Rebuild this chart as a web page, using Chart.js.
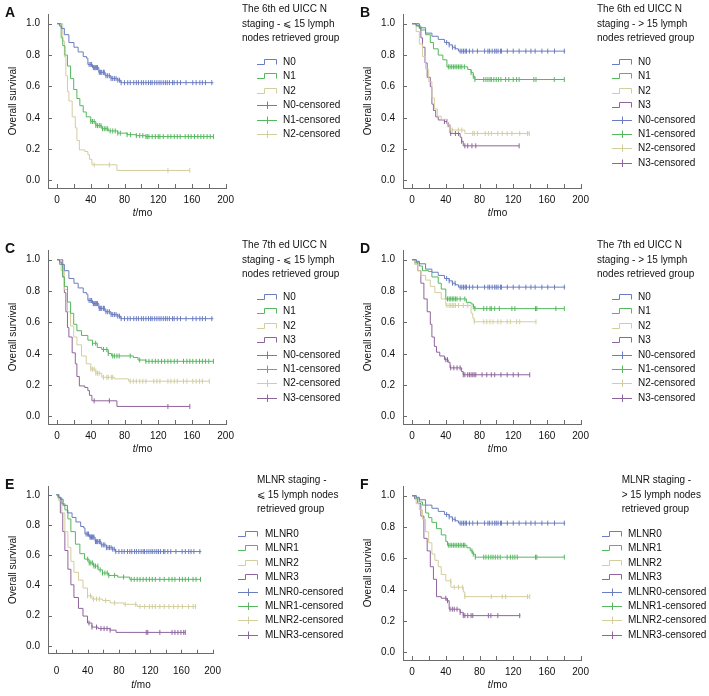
<!DOCTYPE html>
<html lang="en">
<head>
<meta charset="UTF-8">
<title>Overall survival by N staging</title>
<script src="https://cdn.jsdelivr.net/npm/chart.js"></script>
<style>
  body { margin: 0; background: #fff; font-family: "Liberation Sans", Arial, sans-serif; color: #111; }
  #page { position: relative; width: 709px; height: 696px; overflow: hidden; background: #fff; }
  .panel { position: absolute; width: 354px; height: 230px; }
  .panel canvas { position: absolute; left: 0; top: 0; }
  .tag { position: absolute; left: 5px; top: 4px; font: bold 14px "Liberation Sans", Arial, sans-serif; color: #111; }
  .xtitle { position: absolute; width: 60px; text-align: center; font-size: 10px; line-height: 12px; }
  .lgTitle, .lgText { position: absolute; font-size: 10px; line-height: 14px; white-space: nowrap; }
  .lgIcon { position: absolute; width: 20px; height: 8px; }
  .lgIcon svg { display: block; }
</style>
</head>
<body>
<div id="page"></div>
<script>
// axis ticks
const xTickValues = [0, 20, 40, 60, 80, 100, 120, 140, 160, 180, 200];
const xLabelValues = [0, 40, 80, 120, 160, 200];
const yTickValues = [0, 0.2, 0.4, 0.6, 0.8, 1.0];

// KM curves: [month, survival after the drop]; censored = months of censor marks
// N0 (= MLNR0), <= 15 nodes -> panels A, C, E
const n0Le15 = [[0,1],[3,0.985],[5,0.97],[8.6,0.93],[14,0.88],[20,0.85],[25,0.82],[31,0.79],[35,0.78],[36.5,0.74],[42,0.72],[49.5,0.69],[57,0.668],[64,0.65],[72,0.64],[75.6,0.624],[185.5,0.624]];
const n0Le15Cens = [38,40,41,43,44,45,46,47,48,50,51,52,53,55,56,58,60,62,64,66,68,70,72,74,76,80,83.8,86.8,91,94,96.5,100,102.4,105.4,108.4,111,112.8,115.8,118.4,121,123.3,126,128.5,130.7,133.3,137,138.9,142.6,146.4,153,161,165,169.4,172.4,176,183.6];
// N0 (= MLNR0), > 15 nodes -> panels B, D, F
const n0Gt15 = [[0,1],[5,0.99],[8.6,0.974],[16,0.94],[23.5,0.92],[31,0.9],[38.4,0.88],[44,0.865],[47.7,0.85],[51.4,0.84],[55,0.825],[181.7,0.825]];
const n0Gt15Cens = [41,44,48,51,57,59,61,63,64.5,68,72,77.5,86,90,92,95,98,99.8,102,105,106,113,120,127,135,141,146,154,161,169,180.6];

// 6th ed, <= 15
const n1Le15v6 = [[0,1],[4.8,0.91],[6.7,0.86],[9.3,0.8],[12.3,0.73],[16,0.65],[19.7,0.58],[23.5,0.523],[27,0.477],[31,0.437],[34.6,0.406],[40,0.376],[46,0.35],[53,0.33],[60.7,0.316],[72,0.302],[83,0.292],[94,0.286],[105,0.28],[185.5,0.28]];
const n1Le15v6Cens = [40,42,44,46,48,50,52,54,56,58,60,63,66,69,72,75,83,87,94,98,101.7,105.4,107,109,112.8,116.6,120,122,126,131.5,135,139,142.6,146,152,155.7,159,163,167,170.6,174,178,181.7,185.5];
// 6th ed N2 <= 15 (same group as 7th ed N3 <= 15)
const n2Le15v6 = [[0,1],[6.7,0.89],[8.6,0.79],[10.4,0.668],[12.3,0.567],[14,0.507],[17.9,0.406],[21.6,0.336],[23.5,0.255],[26.4,0.195],[32.8,0.185],[36.5,0.165],[38.4,0.135],[41.3,0.1],[71,0.064],[157.5,0.064]];
const n2Le15v6Cens = [44,62,131.5,157.5];

// 6th ed, > 15
const n1Gt15v6 = [[0,1],[4.8,0.985],[10.4,0.96],[16,0.93],[21.6,0.88],[25.3,0.84],[31,0.8],[36.5,0.77],[41.3,0.725],[66,0.708],[70,0.688],[72.6,0.664],[74.5,0.644],[180.6,0.644]];
const n1Gt15v6Cens = [43,45,47,49,51,53,55,57,59,62,70,72.6,74.5,85,87.6,90,92.4,94,97,99.8,102.4,105.4,111,114.7,120,124,127,144.5,147,168.7,180.6];
const n2Gt15v6 = [[0,1],[4.8,0.95],[8.6,0.87],[12.3,0.79],[16,0.71],[19.7,0.63],[23.5,0.527],[26.4,0.457],[30,0.41],[34.6,0.39],[42,0.356],[45,0.322],[62.6,0.3],[139,0.3]];
const n2Gt15v6Cens = [45.8,47.7,55,59,72,73.7,77.5,86.8,90.5,94,101.7,107,112.8,118.4,127.7,137,139];
const n3Gt15v6 = [[0,1],[8.6,0.97],[10.4,0.91],[12.3,0.85],[15.3,0.75],[17.9,0.658],[21.6,0.598],[23.5,0.487],[25.3,0.447],[28,0.406],[31,0.386],[38.4,0.376],[42,0.356],[45,0.3],[57,0.276],[58.8,0.25],[60.7,0.221],[127,0.221]];
const n3Gt15v6Cens = [38.4,41.3,42.8,45.8,51.4,55,58.8,62.6,66,71,75.6,127];

// 7th ed, <= 15
const n1Le15v7 = [[0,1],[3,0.97],[6.7,0.89],[8.6,0.83],[12.3,0.73],[16,0.658],[19.7,0.588],[23.5,0.547],[29,0.517],[36.5,0.487],[42,0.467],[47.7,0.44],[53,0.427],[60.7,0.402],[64.4,0.386],[90.5,0.376],[96,0.36],[105,0.352],[185.5,0.352]];
const n1Le15v7Cens = [42,45.8,55,59,60.7,66,68,71,73.7,86.8,98,105.4,109,112.8,116.6,120,124,127.7,131.5,135,139,142.6,150,154,157.5,161,165,169,172.4,176,180,185.5];
const n2Le15v7 = [[0,1],[4.8,0.93],[8.6,0.81],[12.3,0.668],[16,0.577],[19.7,0.507],[23.5,0.457],[29,0.386],[34.6,0.336],[40,0.302],[46,0.276],[53,0.25],[68,0.24],[85,0.225],[180.6,0.225]];
const n2Le15v7Cens = [40,42,44,46,48,50,55,59,60.7,64.4,66,86.8,90.5,94,98,101.7,105.4,114.7,118.4,122,131.5,135,139,142.6,150,154,161,165,169,172.4,180.6];

// 7th ed, > 15
const n1Gt15v7 = [[0,1],[4.8,0.985],[8.6,0.96],[12.3,0.93],[19.7,0.925],[23.5,0.89],[31,0.85],[34.6,0.813],[40,0.75],[64.4,0.728],[70,0.718],[72.6,0.7],[74.5,0.688],[180.6,0.688]];
const n1Gt15v7Cens = [42,44,45.8,47.7,49.5,51.4,53.3,57,62.6,72.6,74.5,85,88.6,92.4,94,98,103.5,118.4,122,146.4,148,170.6,180.6];
const n2Gt15v7 = [[0,1],[3,0.97],[6.7,0.93],[10.4,0.9],[16,0.87],[21.6,0.83],[27,0.79],[34.6,0.75],[40,0.708],[70,0.658],[72,0.628],[73.7,0.604],[147,0.604]];
const n2Gt15v7Cens = [41.3,44,45.8,47.7,49.5,51.4,55,60.7,66,73.7,85,88.6,92.4,96,101.7,105.4,112.8,116.6,124,127.7,147];
const n3Gt15v7 = [[0,1],[3,0.98],[6.7,0.93],[10.4,0.85],[14,0.75],[17.9,0.668],[21.6,0.588],[23.5,0.507],[26.4,0.447],[29,0.41],[32.8,0.386],[38.4,0.362],[42.8,0.346],[45,0.31],[58.8,0.286],[60.7,0.266],[139.6,0.266]];
const n3Gt15v7Cens = [40,42,45.8,49.5,53.3,57,60.7,62.6,66,68,70,72,73.7,75.6,83,88.6,94,98,105.4,112.8,120,126,139.6];

// MLNR, <= 15
const m1Le15 = [[0,1],[3,0.98],[6.9,0.94],[10.8,0.9],[14.7,0.84],[18.5,0.756],[24.3,0.673],[30,0.61],[36,0.574],[41.7,0.549],[47.5,0.528],[53.3,0.503],[59,0.482],[66.8,0.466],[78.4,0.455],[93.8,0.44],[184.5,0.44]];
const m1Le15Cens = [40,42,44,46,48,50,53,56,59,62,65,67,74.5,86,95.7,99.6,103.4,107,111,115,119,122.7,126.6,132.4,138,144,148,151.7,157.5,161.3,165,169,174.9,178.7,184.5];
const m2Le15 = [[0,1],[3,0.96],[6.9,0.88],[10.8,0.756],[14.7,0.652],[18.5,0.559],[22.4,0.487],[28.2,0.435],[34,0.383],[39.8,0.331],[45.5,0.31],[59,0.3],[68.7,0.284],[86,0.275],[103.4,0.26],[178,0.26]];
const m2Le15Cens = [39.8,43.6,47.5,51.3,55,63,74.5,88,101.5,107,113,119,122.7,126.6,132.4,138,144,150,155.6,161.3,169,175,178];
const m3Le15 = [[0,1],[2,0.98],[5,0.88],[8.1,0.756],[10.8,0.631],[14.7,0.507],[18.5,0.404],[22.4,0.32],[28.2,0.248],[34,0.197],[39.8,0.151],[45.5,0.124],[53.3,0.114],[68.7,0.104],[76.4,0.089],[165,0.089]];
const m3Le15Cens = [41.7,45.5,51.3,57,61,64.8,68.7,115,117,132.4,148,151.7,155.6,159.4,163,165];

// MLNR, > 15
const m1Gt15 = [[0,1],[4.8,0.985],[8.6,0.96],[12.3,0.94],[16,0.89],[19.7,0.86],[23.5,0.83],[29,0.79],[34.6,0.75],[40,0.708],[42,0.684],[65,0.668],[69,0.648],[72,0.628],[75,0.608],[180.6,0.608]];
const m1Gt15Cens = [43,45,47,49,51,53,55,57,59,61,62.6,71,72.6,75,85,87.6,90.5,93.5,96,98.7,101.7,104.6,112.8,116.6,119.5,122,124.8,146.4,148,180.6];
const m2Gt15 = [[0,1],[4.8,0.95],[8.6,0.91],[12.3,0.85],[16,0.77],[19.7,0.7],[23.5,0.628],[27,0.588],[31,0.547],[34.6,0.497],[40,0.457],[46,0.416],[60.7,0.386],[62.6,0.356],[139.6,0.356]];
const m2Gt15Cens = [45.8,50,55,60,62.6,94,107,111,137,139.6];
const m3Gt15 = [[0,1],[3,0.98],[6.7,0.95],[10.4,0.87],[14,0.728],[17.9,0.648],[21.6,0.547],[25.3,0.467],[29,0.356],[34.6,0.346],[41.3,0.33],[44,0.276],[57,0.256],[60.7,0.235],[128.5,0.235]];
const m3Gt15Cens = [40,42,45,47.7,50,53.3,57,60.7,62.6,66,70,72,90.5,93.5,101.7,127.7];

const nNames = ['N0', 'N1', 'N2', 'N3'];
const mNames = ['MLNR0', 'MLNR1', 'MLNR2', 'MLNR3'];

const colors = ['#6b7dc2', '#55b85f', '#d3ce9e', '#8f649c'];
const axisColor = '#6b6b6b';
const fontFamily = '"Liberation Sans", Arial, sans-serif';

// plot frames (chart area is always left 48 / top 3)
const frames = {
  std:    { w: 240, h: 225, axisH: 37,   xMin: -10.8, xMax: 200.5, yMin: -0.048, yMax: 1.062, labelPad: 6,  xTitleX: 142.5 },
  narrow: { w: 233, h: 225, axisH: 43.3, xMin: -10.8, xMax: 200.5, yMin: -0.052, yMax: 1.058, labelPad: 12, xTitleX: 141 }
};

const panels = [
  { tag: 'A', left: 0, top: 0, frame: 'std',
    title: ['The 6th ed UICC N', 'staging - \u2A7D 15 lymph', 'nodes retrieved group'],
    names: nNames.slice(0, 3), curves: [n0Le15, n1Le15v6, n2Le15v6], censored: [n0Le15Cens, n1Le15v6Cens, n2Le15v6Cens],
    legend: { titleX: 242, iconX: 257, textX: 283, titleTop: 2, itemTop: 55 } },
  { tag: 'B', left: 355, top: 0, frame: 'std',
    title: ['The 6th ed UICC N', 'staging - > 15 lymph', 'nodes retrieved group'],
    names: nNames, curves: [n0Gt15, n1Gt15v6, n2Gt15v6, n3Gt15v6], censored: [n0Gt15Cens, n1Gt15v6Cens, n2Gt15v6Cens, n3Gt15v6Cens],
    legend: { titleX: 242, iconX: 257, textX: 283, titleTop: 2, itemTop: 55 } },
  { tag: 'C', left: 0, top: 236, frame: 'std',
    title: ['The 7th ed UICC N', 'staging - \u2A7D 15 lymph', 'nodes retrieved group'],
    names: nNames, curves: [n0Le15, n1Le15v7, n2Le15v7, n2Le15v6], censored: [n0Le15Cens, n1Le15v7Cens, n2Le15v7Cens, n2Le15v6Cens],
    legend: { titleX: 242, iconX: 257, textX: 283, titleTop: 2, itemTop: 54 } },
  { tag: 'D', left: 355, top: 236, frame: 'std',
    title: ['The 7th ed UICC N', 'staging - > 15 lymph', 'nodes retrieved group'],
    names: nNames, curves: [n0Gt15, n1Gt15v7, n2Gt15v7, n3Gt15v7], censored: [n0Gt15Cens, n1Gt15v7Cens, n2Gt15v7Cens, n3Gt15v7Cens],
    legend: { titleX: 242, iconX: 257, textX: 283, titleTop: 2, itemTop: 54 } },
  { tag: 'E', left: 0, top: 472, frame: 'narrow',
    title: ['MLNR staging -', '\u2A7D 15 lymph nodes', 'retrieved group'],
    names: mNames, curves: [n0Le15, m1Le15, m2Le15, m3Le15], censored: [n0Le15Cens, m1Le15Cens, m2Le15Cens, m3Le15Cens],
    legend: { titleX: 257, iconX: 238, textX: 265, titleTop: 1, itemTop: 55 } },
  { tag: 'F', left: 355, top: 472, frame: 'std',
    title: ['MLNR staging -', '> 15 lymph nodes', 'retrieved group'],
    names: mNames, curves: [n0Gt15, m1Gt15, m2Gt15, m3Gt15], censored: [n0Gt15Cens, m1Gt15Cens, m2Gt15Cens, m3Gt15Cens],
    legend: { titleX: 266.7, iconX: 246.7, textX: 273, titleTop: 1, itemTop: 55 } }
];

// survival level of a step curve at time t (where the censor mark sits)
function survivalAt(curve, t) {
  let s = curve[0][1];
  for (const [x, y] of curve) { if (x <= t) s = y; }
  return s;
}

// tick marks pointing into the plot, as in the original figure
const inwardTicks = {
  id: 'inwardTicks',
  afterDraw(chart) {
    const { ctx, chartArea } = chart;
    const x = chart.scales.x, y = chart.scales.y;
    ctx.save();
    ctx.strokeStyle = axisColor;
    ctx.lineWidth = 1;
    ctx.beginPath();
    x.ticks.forEach(t => {
      const px = Math.round(x.getPixelForValue(t.value)) + 0.5;
      ctx.moveTo(px, chartArea.bottom);
      ctx.lineTo(px, chartArea.bottom - 4);
    });
    y.ticks.forEach(t => {
      const py = Math.round(y.getPixelForValue(t.value)) + 0.5;
      ctx.moveTo(chartArea.left, py);
      ctx.lineTo(chartArea.left + 4, py);
    });
    ctx.stroke();
    ctx.restore();
  }
};

function stepIcon(color) {
  return '<svg width="20" height="8"><path d="M0,6.5 H7.5 V1.5 H19.5 V6.5" fill="none" stroke="' + color + '" stroke-width="1"/></svg>';
}
function censIcon(color) {
  return '<svg width="20" height="8"><path d="M0,4.5 H20 M10.5,0.5 V8" fill="none" stroke="' + color + '" stroke-width="1"/></svg>';
}

function buildLegend(wrap, p) {
  const L = p.legend;
  p.title.forEach((line, i) => {
    const el = document.createElement('div');
    el.className = 'lgTitle';
    el.style.left = L.titleX + 'px';
    el.style.top = (L.titleTop + i * 14.5) + 'px';
    el.textContent = line;
    wrap.appendChild(el);
  });
  const items = [];
  p.names.forEach((n, i) => items.push({ text: n, icon: stepIcon(colors[i]) }));
  p.names.forEach((n, i) => items.push({ text: n + '-censored', icon: censIcon(colors[i]) }));
  items.forEach((it, i) => {
    const top = L.itemTop + i * 14.4;
    const ic = document.createElement('div');
    ic.className = 'lgIcon';
    ic.style.left = L.iconX + 'px';
    ic.style.top = (top + 3) + 'px';
    ic.innerHTML = it.icon;
    wrap.appendChild(ic);
    const tx = document.createElement('div');
    tx.className = 'lgText';
    tx.style.left = L.textX + 'px';
    tx.style.top = top + 'px';
    tx.textContent = it.text;
    wrap.appendChild(tx);
  });
}

function drawPanel(p) {
  const f = frames[p.frame];
  const wrap = document.createElement('div');
  wrap.className = 'panel';
  wrap.style.left = p.left + 'px';
  wrap.style.top = p.top + 'px';
  document.getElementById('page').appendChild(wrap);

  const canvas = document.createElement('canvas');
  canvas.width = f.w;
  canvas.height = f.h;
  wrap.appendChild(canvas);

  const tag = document.createElement('div');
  tag.className = 'tag';
  tag.textContent = p.tag;
  wrap.appendChild(tag);

  const xt = document.createElement('div');
  xt.className = 'xtitle';
  xt.style.left = (f.xTitleX - 30) + 'px';
  xt.style.top = '207px';
  xt.innerHTML = '<i>t</i>/mo';
  wrap.appendChild(xt);

  buildLegend(wrap, p);

  const datasets = [];
  p.curves.forEach((c, i) => {
    datasets.push({
      data: c.map(([x, y]) => ({ x, y })),
      borderColor: colors[i], borderWidth: 1, stepped: true,
      pointRadius: 0, fill: false
    });
  });
  p.censored.forEach((ts, i) => {
    datasets.push({
      data: ts.map(t => ({ x: t, y: survivalAt(p.curves[i], t) })),
      showLine: false, pointStyle: 'line', pointRotation: 90, pointRadius: 2.5,
      pointBorderColor: colors[i], pointBorderWidth: 1, borderColor: colors[i]
    });
  });

  new Chart(canvas, {
    type: 'line',
    data: { datasets },
    options: {
      responsive: false,
      animation: false,
      devicePixelRatio: 1,
      layout: { padding: { top: 3, right: 3, left: 0, bottom: 0 } },
      plugins: { legend: { display: false }, tooltip: { enabled: false } },
      scales: {
        x: {
          type: 'linear', min: f.xMin, max: f.xMax,
          grid: { display: false, drawTicks: false },
          border: { color: axisColor, width: 1 },
          afterBuildTicks: s => { s.ticks = xTickValues.map(v => ({ value: v })); },
          afterFit: s => { s.height = f.axisH; },
          ticks: {
            autoSkip: false, maxRotation: 0, padding: f.labelPad, color: '#111',
            font: { size: 10, family: fontFamily },
            callback: v => xLabelValues.includes(v) ? String(v) : ''
          }
        },
        y: {
          type: 'linear', min: f.yMin, max: f.yMax,
          grid: { display: false, drawTicks: false },
          border: { color: axisColor, width: 1 },
          afterBuildTicks: s => { s.ticks = yTickValues.map(v => ({ value: v })); },
          afterFit: s => { s.width = 48; },
          ticks: {
            padding: 8, color: '#111',
            font: { size: 10, family: fontFamily },
            callback: v => v.toFixed(1)
          },
          title: {
            display: true, text: 'Overall survival', color: '#111',
            font: { size: 10, family: fontFamily },
            padding: { top: 7, bottom: 0 }
          }
        }
      }
    },
    plugins: [inwardTicks]
  });
}

panels.forEach(drawPanel);
</script>
</body>
</html>
